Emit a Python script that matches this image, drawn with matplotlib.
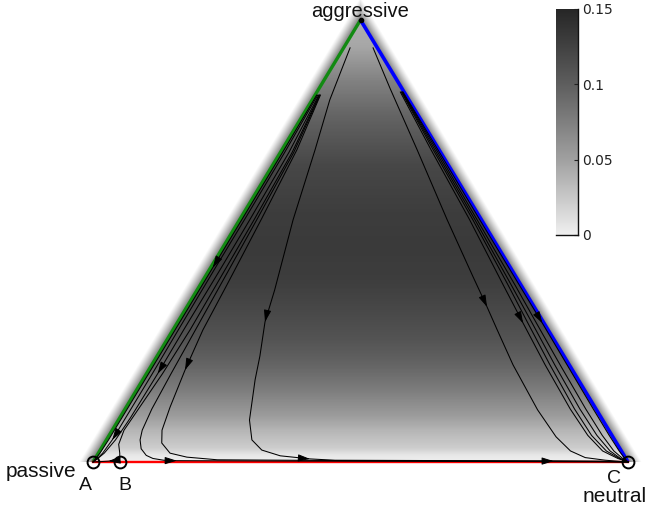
import numpy as np
import matplotlib
matplotlib.use("Agg")
import matplotlib.pyplot as plt
from matplotlib.colors import LinearSegmentedColormap, Normalize

plt.rcParams["font.family"] = ["Liberation Sans", "DejaVu Sans"]

# ---------------------------------------------------------------------------
# Data
# ---------------------------------------------------------------------------
# density of the population state, sampled along the aggressive share
profile_aggr = [0.0, 0.016, 0.032, 0.072, 0.106, 0.163, 0.219, 0.276, 0.333,
                0.412, 0.484, 0.559, 0.672, 0.785, 0.864, 0.937, 1.0]
profile_value = [0.0, 0.006, 0.022, 0.037, 0.054, 0.077, 0.095, 0.109, 0.118,
                 0.129, 0.132, 0.130, 0.120, 0.095, 0.073, 0.047, 0.040]

# colour scale
cmap_levels = [0.0, 0.05, 0.10, 0.15]
cmap_grays = [0.94, 0.63, 0.37, 0.15]
cbar_ticks = [0.0, 0.05, 0.10, 0.15]
cbar_ticklabels = ["0", "0.05", "0.1", "0.15"]

# rest points on the passive-neutral edge: (aggressive share, neutral share)
rest_names = ["A", "B", "C"]
rest_aggr = [0.0, 0.0, 0.0]
rest_neut = [0.0, 0.05, 1.0]

# trajectories: aggressive share and neutral share along each path
traj_aggr = {
    "L1": [0.83, 0.70, 0.55, 0.44, 0.30, 0.20, 0.10, 0.05, 0.02, 0.008, 0.0],
    "L2": [0.83, 0.70, 0.55, 0.44, 0.30, 0.20, 0.10, 0.05, 0.02, 0.008, 0.0],
    "L3": [0.83, 0.70, 0.55, 0.44, 0.30, 0.20, 0.10, 0.05, 0.02, 0.008, 0.0],
    "L4": [0.83, 0.70, 0.55, 0.40, 0.30, 0.20, 0.12, 0.072, 0.04, 0.02,
           0.008, 0.004, 0.002, 0.001, 0.0],
    "c3": [0.83, 0.70, 0.55, 0.40, 0.30, 0.20, 0.12, 0.072, 0.05, 0.03,
           0.015, 0.008, 0.004, 0.003, 0.002, 0.001, 0.0],
    "c2": [0.83, 0.706, 0.55, 0.40, 0.299, 0.208, 0.124, 0.072, 0.043, 0.020,
           0.011, 0.005, 0.003, 0.002, 0.001, 0.0],
    "c1": [0.937, 0.819, 0.706, 0.548, 0.389, 0.317, 0.24, 0.186, 0.095,
           0.050, 0.027, 0.014, 0.007, 0.004, 0.003, 0.002, 0.0],
    "r1": [0.937, 0.846, 0.706, 0.548, 0.42, 0.351, 0.299, 0.22, 0.118,
           0.057, 0.025, 0.010, 0.004, 0.001, 0.0],
    "R2": [0.837, 0.706, 0.548, 0.40, 0.314, 0.22, 0.12, 0.06, 0.025, 0.008, 0.0],
    "R3": [0.837, 0.706, 0.548, 0.40, 0.314, 0.22, 0.12, 0.06, 0.025, 0.008, 0.0],
    "R4": [0.837, 0.706, 0.548, 0.40, 0.314, 0.22, 0.12, 0.06, 0.025, 0.008, 0.0],
    "R5": [0.837, 0.706, 0.548, 0.40, 0.314, 0.22, 0.12, 0.06, 0.025, 0.008, 0.0],
    "R6": [0.837, 0.706, 0.548, 0.40, 0.314, 0.22, 0.12, 0.06, 0.025, 0.008, 0.0],
}
traj_neut = {
    "L1": [0.003, 0.004, 0.004, 0.004, 0.004, 0.004, 0.004, 0.004, 0.003, 0.001, 0.0],
    "L2": [0.005, 0.008, 0.009, 0.009, 0.010, 0.011, 0.011, 0.011, 0.008, 0.004, 0.0],
    "L3": [0.007, 0.016, 0.019, 0.020, 0.020, 0.021, 0.020, 0.017, 0.011, 0.005, 0.0],
    "L4": [0.008, 0.022, 0.027, 0.030, 0.032, 0.030, 0.025, 0.022, 0.028, 0.040,
           0.046, 0.040, 0.028, 0.015, 0.0],
    "c3": [0.009, 0.025, 0.032, 0.038, 0.042, 0.046, 0.050, 0.056, 0.063, 0.075,
           0.092, 0.108, 0.130, 0.155, 0.40, 0.80, 1.0],
    "c2": [0.010, 0.028, 0.040, 0.050, 0.056, 0.068, 0.082, 0.093, 0.107, 0.134,
           0.170, 0.23, 0.50, 0.86, 0.95, 1.0],
    "c1": [0.012, 0.033, 0.062, 0.100, 0.145, 0.163, 0.192, 0.210, 0.245,
           0.272, 0.302, 0.343, 0.402, 0.45, 0.70, 0.95, 1.0],
    "r1": [0.055, 0.132, 0.253, 0.388, 0.500, 0.561, 0.606, 0.675, 0.772,
           0.837, 0.880, 0.915, 0.956, 0.989, 1.0],
    "R2": [0.156, 0.279, 0.430, 0.567, 0.647, 0.735, 0.832, 0.895, 0.940, 0.977, 1.0],
    "R3": [0.159, 0.286, 0.440, 0.582, 0.664, 0.753, 0.850, 0.912, 0.954, 0.982, 1.0],
    "R4": [0.160, 0.289, 0.444, 0.589, 0.672, 0.763, 0.861, 0.922, 0.961, 0.986, 1.0],
    "R5": [0.161, 0.292, 0.449, 0.597, 0.683, 0.776, 0.875, 0.935, 0.971, 0.990, 1.0],
    "R6": [0.158, 0.283, 0.436, 0.576, 0.656, 0.744, 0.840, 0.902, 0.947, 0.980, 1.0],
}
# vertices of each path that carry a direction arrow
traj_arrows = {
    "L1": [3], "L2": [7], "L3": [5], "L4": [12], "c3": [13],
    "c2": [5, 13], "c1": [5, 12], "r1": [5], "R2": [4], "R5": [4],
}

# ---------------------------------------------------------------------------
# Layout: simplex drawn with passive at (0,0), neutral at (1,0), aggressive
# at (0.5,1); the axes fill the figure.
# ---------------------------------------------------------------------------
W, H = 650, 508
SX, SY = 535.0, 442.0          # pixels per unit in x and y
X0, Y0 = 93.0, 462.0           # pixel position of the passive corner
xlim = (-X0 / SX, (W - X0) / SX)
ylim = (-(H - Y0) / SY, Y0 / SY)


def to_xy(aggr, neut):
    aggr = np.asarray(aggr, float)
    neut = np.asarray(neut, float)
    return neut + aggr / 2.0, aggr


def px(x_pix, y_pix):
    """Figure pixel position (from top-left) to data coordinates."""
    return (x_pix - X0) / SX, (Y0 - y_pix) / SY


fig = plt.figure(figsize=(W / 100, H / 100), dpi=100)
ax = fig.add_axes([0, 0, 1, 1])
ax.set_xlim(*xlim)
ax.set_ylim(*ylim)
ax.axis("off")

cmap = LinearSegmentedColormap.from_list(
    "density",
    [(lv / cmap_levels[-1], (g, g, g)) for lv, g in zip(cmap_levels, cmap_grays)])
norm = Normalize(vmin=cmap_levels[0], vmax=cmap_levels[-1])

# shaded density over the simplex, with a soft shadow outside the slanted edges
xs = xlim[0] + (np.arange(W) + 0.5) / W * (xlim[1] - xlim[0])
ys = ylim[1] - (np.arange(H) + 0.5) / H * (ylim[1] - ylim[0])
XX, YY = np.meshgrid(xs, ys)
aggr = YY
neut = XX - YY / 2.0
pas = 1.0 - aggr - neut
inside = (aggr >= 0) & (neut >= 0) & (pas >= 0)
val = np.interp(aggr, profile_aggr, profile_value)
rgb = cmap(norm(val))[..., :3].copy()

PX, PY = XX * SX, YY * SY
elen = np.hypot(SY, SX / 2)
d_left = (-PX * SY + PY * SX / 2) / elen
d_right = ((PX - SX) * SY + PY * SX / 2) / elen
d_out = np.maximum(d_left, d_right)
shadow = np.clip(1 - d_out / 12.0, 0, 1) ** 1.2
shadow[PY < 0] = 0
gray = 1 - 0.55 * shadow
out = ~inside
for k in range(3):
    rgb[..., k][out] = gray[out]
ax.imshow(rgb, extent=[xlim[0], xlim[1], ylim[0], ylim[1]], origin="upper",
          interpolation="nearest", aspect="auto", zorder=0)

# simplex edges
ax.plot(*to_xy([0, 1], [0, 0]), color="#128a12", lw=2.4, zorder=2,
        solid_capstyle="butt")
ax.plot(*to_xy([1, 0], [0, 1]), color="#0000ff", lw=2.6, zorder=2,
        solid_capstyle="butt")
ax.plot(*to_xy([0, 0], [0, 1]), color="#ff0000", lw=1.7, zorder=2)

# trajectories and their arrows
for name in traj_aggr:
    x, y = to_xy(traj_aggr[name], traj_neut[name])
    ax.plot(x, y, color="black", lw=0.75, zorder=3)
    for k in traj_arrows.get(name, []):
        j0, j1 = max(k - 1, 0), min(k + 1, len(x) - 1)
        dx, dy = (x[j1] - x[j0]) * SX, (y[j1] - y[j0]) * SY
        L = np.hypot(dx, dy)
        dx, dy = dx / L, dy / L
        tail = (x[k] - dx * 7 / SX, y[k] - dy * 7 / SY)
        ax.annotate("", xy=(x[k], y[k]), xytext=tail,
                    arrowprops=dict(arrowstyle="-|>,head_length=0.55,head_width=0.17",
                                    color="black", lw=0.7, mutation_scale=13,
                                    shrinkA=0, shrinkB=0),
                    zorder=4)

# rest points
rx, ry = to_xy(rest_aggr, rest_neut)
ax.plot(rx, ry, "o", ms=8.5, mfc="none", mec="black", mew=1.4, zorder=5)
ax.plot(*to_xy([1], [0]), "o", ms=3, color="black", zorder=5)

# labels
txt = dict(color="#111111", zorder=6, ha="center", va="baseline")
ax.text(*px(360, 17), "aggressive", fontsize=14.5, **txt)
ax.text(*px(41, 477), "passive", fontsize=15, **txt)
ax.text(*px(85, 490), rest_names[0], fontsize=14, **txt)
ax.text(*px(125, 490), rest_names[1], fontsize=14, **txt)
ax.text(*px(614, 483), rest_names[2], fontsize=14, **txt)
ax.text(*px(615, 502), "neutral", fontsize=15, **txt)

# colour bar
cax = fig.add_axes([556 / W, (H - 235) / H, 22 / W, 226 / H])
grad = np.linspace(cmap_levels[0], cmap_levels[-1], 256).reshape(-1, 1)
cax.imshow(grad, cmap=cmap, norm=norm, origin="lower", aspect="auto",
           extent=[0, 1, cmap_levels[0], cmap_levels[-1]])
cax.set_xlim(0, 1)
cax.set_ylim(cmap_levels[0], cmap_levels[-1])
cax.set_xticks([])
cax.yaxis.tick_right()
cax.set_yticks(cbar_ticks)
cax.set_yticklabels(cbar_ticklabels, family="DejaVu Sans")
cax.tick_params(axis="y", direction="in", length=3, width=0.8, pad=3,
                labelsize=10, colors="#222222")
for side in ("left", "top"):
    cax.spines[side].set_visible(False)
for side in ("right", "bottom"):
    cax.spines[side].set_linewidth(1.0)
    cax.spines[side].set_color("#111111")

fig.savefig("out.png", dpi=100)
